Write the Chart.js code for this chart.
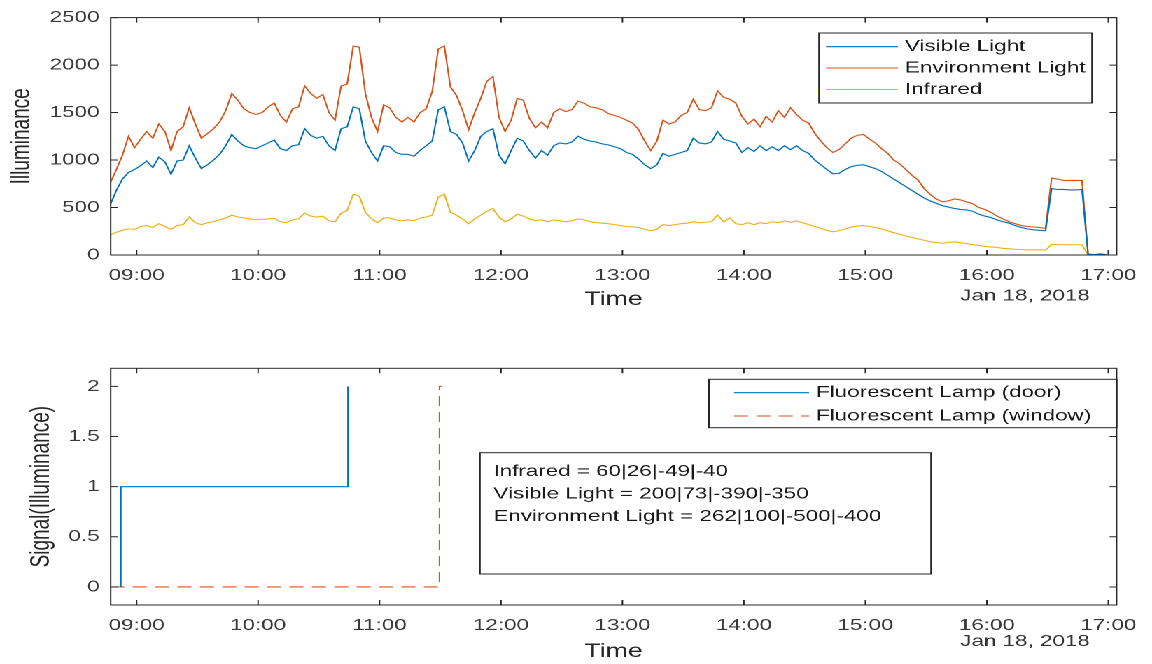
<!DOCTYPE html>
<html>
<head>
<meta charset="utf-8">
<title>Illuminance and lamp signals</title>
<script src="https://cdn.jsdelivr.net/npm/chart.js@4.4.1/dist/chart.umd.min.js"></script>
<style>
  html, body { margin: 0; padding: 0; background: #fff; overflow: hidden; }
  /* the figure is laid out narrow and stretched sideways */
  #figure { width: 823px; height: 664px; transform: scaleX(1.39976); transform-origin: 0 0; }
  .panel { position: relative; width: 823px; height: 332px; }
</style>
</head>
<body>
<div id="figure">
  <div class="panel"><canvas id="lightChart"></canvas></div>
  <div class="panel"><canvas id="lampChart"></canvas></div>
</div>
<script>
// sensor log: one sample every 3 minutes from 08:47 (minutes after midnight)
const firstSample = 527;
const sampleStep = 3;

const visibleLight = [
  530, 680, 800, 870, 900, 940, 990, 920, 1030, 980, 850, 990, 1000, 1150, 1020,
  910, 950, 1000, 1060, 1150, 1270, 1200, 1150, 1130, 1120, 1150, 1180, 1210, 1120, 1100,
  1150, 1160, 1330, 1260, 1230, 1250, 1150, 1100, 1330, 1350, 1560, 1540, 1200, 1080, 990,
  1150, 1140, 1080, 1060,
  1060, 1040, 1100, 1150, 1200, 1530, 1560, 1300, 1270, 1180, 990, 1100, 1250, 1300, 1330,
  1050, 960, 1100, 1230, 1200, 1100, 1020, 1100, 1050, 1150, 1180, 1170, 1190, 1250, 1220,
  1200, 1190, 1170, 1160, 1140, 1120, 1080, 1060, 1010, 950, 910, 950, 1070, 1040, 1060,
  1080, 1100, 1230, 1180, 1170, 1190, 1300, 1220, 1200, 1180, 1080, 1130, 1090, 1150, 1100,
  1140, 1100, 1150, 1110, 1150,
  1100, 1070, 1000, 950, 900, 855, 860, 900, 930, 945, 950, 930, 910, 880, 840,
  800, 760, 720, 680, 640, 600, 570, 545, 520, 505, 490, 480, 475, 460, 430,
  410, 395, 370, 350, 335, 310, 290, 275, 265, 260, 255,
  700, 690, 690, 685, 685, 690,
  8, 3, 10, 3
];

const environmentLight = [
  760, 900, 1050, 1250, 1130, 1220, 1300, 1230, 1380, 1300, 1100, 1300, 1350, 1550, 1380,
  1230, 1280, 1330, 1400, 1520, 1700, 1630, 1540, 1500, 1480, 1500, 1560, 1600, 1470, 1400,
  1540, 1560, 1780, 1700, 1650, 1690, 1500, 1420, 1780, 1800, 2200, 2190, 1700, 1450, 1300,
  1580, 1550, 1450, 1400,
  1450, 1400, 1500, 1540, 1720, 2170, 2200, 1770, 1680, 1520, 1320, 1500, 1650, 1830, 1880,
  1450, 1300, 1420, 1650, 1630, 1440, 1340, 1400, 1340, 1500, 1540, 1510, 1530, 1620, 1600,
  1560, 1550, 1530, 1490, 1470, 1450, 1420, 1390, 1320, 1200, 1100, 1200, 1420, 1380, 1400,
  1470, 1500, 1640, 1530, 1520, 1550, 1730, 1660, 1640, 1600, 1460, 1380, 1430, 1350, 1460,
  1400, 1520, 1450, 1550, 1480,
  1420, 1390, 1280, 1200, 1130, 1080, 1110, 1170, 1230, 1260, 1270, 1220, 1180, 1120, 1070,
  1000, 960, 900, 840, 790, 700, 640, 590, 560, 570, 590, 580, 560, 540, 500,
  480, 450, 410, 380, 350, 330, 310, 300, 295, 290, 280,
  810, 800, 785, 785, 785, 785,
  10, 3, 12, 4
];

const infrared = [
  210, 240, 260, 275, 270, 300, 310, 290, 330, 300, 270, 310, 320, 400, 340,
  320, 340, 350, 370, 390, 420, 400, 390, 380, 370, 375, 380, 385, 350, 340,
  370, 380, 440, 410, 400, 410, 360, 350, 440, 470, 640, 620, 450, 380, 340,
  390, 390, 370, 360,
  370, 360, 390, 400, 420, 610, 640, 450, 420, 380, 330, 380, 420, 460, 490,
  400, 350, 380, 430, 410, 380, 360, 370, 350, 370, 360, 350, 360, 380, 370,
  350, 340, 335, 330, 320, 310, 300, 295, 290, 270, 255, 270, 320, 310, 320,
  330, 335, 350, 340, 345, 350, 420, 350, 390, 330, 320, 340, 320, 340, 330,
  350, 340, 360, 345, 360,
  340, 320, 300, 280, 260, 245, 255, 275, 295, 305, 310, 300, 290, 275, 255,
  235, 220, 200, 185, 170, 155, 140, 130, 125, 130, 140, 130, 120, 110, 100,
  90, 85, 80, 70, 65, 60, 58, 55, 55, 55, 52,
  110, 110, 108, 108, 108, 108,
  4, 2, 6, 2
];

// lamp on/off signals: switching moments (minutes) and levels
const doorTimes = [532.2, 532.2, 644.4, 644.4];
const doorSignal = [0, 1, 1, 2];
const windowTimes = [527, 689.6, 689.6, 690.6];
const windowSignal = [0, 0, 2, 2];

const hourTicks = [540, 600, 660, 720, 780, 840, 900, 960, 1020];
const hourLabels = ['09:00', '10:00', '11:00', '12:00', '13:00', '14:00', '15:00', '16:00', '17:00'];
const illuminanceTicks = [0, 500, 1000, 1500, 2000, 2500];
const signalTicks = [0, 0.5, 1, 1.5, 2];
const noteLines = [
  'Infrared = 60|26|-49|-40',
  'Visible Light = 200|73|-390|-350',
  'Environment Light = 262|100|-500|-400'
];

const sampleMinutes = visibleLight.map((_, i) => firstSample + i * sampleStep);
const toPoints = (xs, ys) => xs.map((x, i) => ({ x: x, y: ys[i] }));

const FONT = '"Liberation Sans", Arial, sans-serif';
const INK = '#262626';
const BLUE = '#0072BD', ORANGE = '#D95319', YELLOW = '#EDB120';

// box, inward ticks, legend, date and note drawn MATLAB style
const axesFrame = {
  id: 'axesFrame',
  afterDraw(chart, args, o) {
    const { ctx, chartArea: a } = chart;
    const xs = chart.scales.x, ys = chart.scales.y;
    ctx.save();
    ctx.strokeStyle = INK;
    ctx.lineWidth = 1;
    ctx.setLineDash([]);
    ctx.beginPath();
    xs.ticks.forEach(t => {
      const px = xs.getPixelForValue(t.value);
      ctx.moveTo(px, a.bottom); ctx.lineTo(px, a.bottom - 5);
      ctx.moveTo(px, a.top); ctx.lineTo(px, a.top + 5);
    });
    ys.ticks.forEach(t => {
      const py = ys.getPixelForValue(t.value);
      ctx.moveTo(a.left, py); ctx.lineTo(a.left + 5, py);
      ctx.moveTo(a.right, py); ctx.lineTo(a.right - 5, py);
    });
    ctx.stroke();
    ctx.strokeRect(a.left, a.top, a.right - a.left, a.bottom - a.top);

    ctx.fillStyle = '#333';
    ctx.font = '16px ' + FONT;
    ctx.textAlign = 'center';
    ctx.textBaseline = 'middle';
    ctx.fillText('Jan 18, 2018', o.dateX, o.dateY);

    if (o.note) {
      const n = o.note;
      ctx.fillStyle = '#fff';
      ctx.fillRect(n.left, n.top, n.right - n.left, n.bottom - n.top);
      ctx.strokeStyle = INK;
      ctx.strokeRect(n.left, n.top, n.right - n.left, n.bottom - n.top);
      ctx.fillStyle = '#1a1a1a';
      ctx.textAlign = 'left';
      noteLines.forEach((line, i) => ctx.fillText(line, n.textX, n.rows[i]));
    }

    const lg = o.legend;
    ctx.fillStyle = '#fff';
    ctx.fillRect(lg.left, lg.top, lg.right - lg.left, lg.bottom - lg.top);
    ctx.strokeStyle = INK;
    ctx.strokeRect(lg.left, lg.top, lg.right - lg.left, lg.bottom - lg.top);
    ctx.textAlign = 'left';
    chart.data.datasets.forEach((ds, i) => {
      const yy = lg.rows[i];
      ctx.strokeStyle = ds.borderColor;
      ctx.lineWidth = ds.borderWidth;
      ctx.setLineDash(ds.borderDash || []);
      ctx.beginPath();
      ctx.moveTo(lg.lineFrom, yy);
      ctx.lineTo(lg.lineTo, yy);
      ctx.stroke();
      ctx.setLineDash([]);
      ctx.fillStyle = '#1a1a1a';
      ctx.fillText(ds.label, lg.textX, yy);
    });
    ctx.restore();
  }
};

function axesOptions(cfg) {
  return {
    responsive: true,
    maintainAspectRatio: false,
    animation: false,
    devicePixelRatio: 2,
    layout: { padding: { top: cfg.padTop, right: 25.2, bottom: 0, left: 0 } },
    plugins: {
      legend: { display: false },
      tooltip: { enabled: false },
      axesFrame: cfg.frame
    },
    scales: {
      x: {
        type: 'linear',
        min: 527.2,
        max: 1024.1,
        grid: { display: false, drawTicks: false },
        border: { display: false },
        afterBuildTicks: s => { s.ticks = hourTicks.map(v => ({ value: v })); },
        afterFit: s => { s.height = cfg.xHeight; },
        ticks: {
          autoSkip: false,
          maxRotation: 0,
          padding: 11,
          color: '#3a3a3a',
          font: { family: FONT, size: 16 },
          callback: v => hourLabels[hourTicks.indexOf(v)]
        },
        title: {
          display: true,
          text: 'Time',
          color: INK,
          font: { family: FONT, size: 19 },
          padding: { top: 0, bottom: cfg.timePad }
        }
      },
      y: {
        min: cfg.yMin,
        max: cfg.yMax,
        grid: { display: false, drawTicks: false },
        border: { display: false },
        afterBuildTicks: s => { s.ticks = cfg.yTicks.map(v => ({ value: v })); },
        afterFit: s => { s.width = 79.1; },
        ticks: {
          padding: 8,
          color: '#3a3a3a',
          font: { family: FONT, size: 16 },
          callback: v => String(v)
        },
        title: {
          display: true,
          text: cfg.yTitle,
          color: INK,
          font: { family: FONT, size: 19 },
          padding: { top: cfg.yTitlePad, bottom: 0 }
        }
      }
    }
  };
}

new Chart(document.getElementById('lightChart'), {
  type: 'line',
  data: {
    datasets: [
      { label: 'Visible Light', data: toPoints(sampleMinutes, visibleLight), borderColor: BLUE },
      { label: 'Environment Light', data: toPoints(sampleMinutes, environmentLight), borderColor: ORANGE },
      { label: 'Infrared', data: toPoints(sampleMinutes, infrared), borderColor: YELLOW }
    ].map(ds => Object.assign(ds, { pointRadius: 0, borderWidth: 1.1, tension: 0, fill: false }))
  },
  options: axesOptions({
    padTop: 15, xHeight: 77, timePad: 20.6,
    yMin: 0, yMax: 2500, yTicks: illuminanceTicks,
    yTitle: 'Illuminance', yTitlePad: 4.6,
    frame: {
      dateX: 732.3, dateY: 296,
      legend: { left: 585.1, right: 780.1, top: 33, bottom: 103,
                rows: [46.7, 68, 89.5], lineFrom: 590.1, lineTo: 641.5, textX: 646.5 }
    }
  }),
  plugins: [axesFrame]
});

new Chart(document.getElementById('lampChart'), {
  type: 'line',
  data: {
    datasets: [
      { label: 'Fluorescent Lamp (door)', data: toPoints(doorTimes, doorSignal),
        borderColor: BLUE },
      { label: 'Fluorescent Lamp (window)', data: toPoints(windowTimes, windowSignal),
        borderColor: ORANGE, borderDash: [10, 6] }
    ].map(ds => Object.assign(ds, { pointRadius: 0, borderWidth: 1.1, fill: false }))
  },
  options: axesOptions({
    padTop: 36.3, xHeight: 59, timePad: 0.9,
    yMin: -0.18, yMax: 2.18, yTicks: signalTicks,
    yTitle: 'Signal(Illuminance)', yTitlePad: 18.5,
    frame: {
      dateX: 732.3, dateY: 309.5,
      legend: { left: 506.5, right: 797.8, top: 47.3, bottom: 95.7,
                rows: [60.7, 84], lineFrom: 524.4, lineTo: 578, textX: 583 },
      note: { left: 342.9, right: 665.1, top: 120.7, bottom: 242,
              rows: [139.7, 162, 184.7], textX: 352.5 }
    }
  }),
  plugins: [axesFrame]
});
</script>
</body>
</html>
